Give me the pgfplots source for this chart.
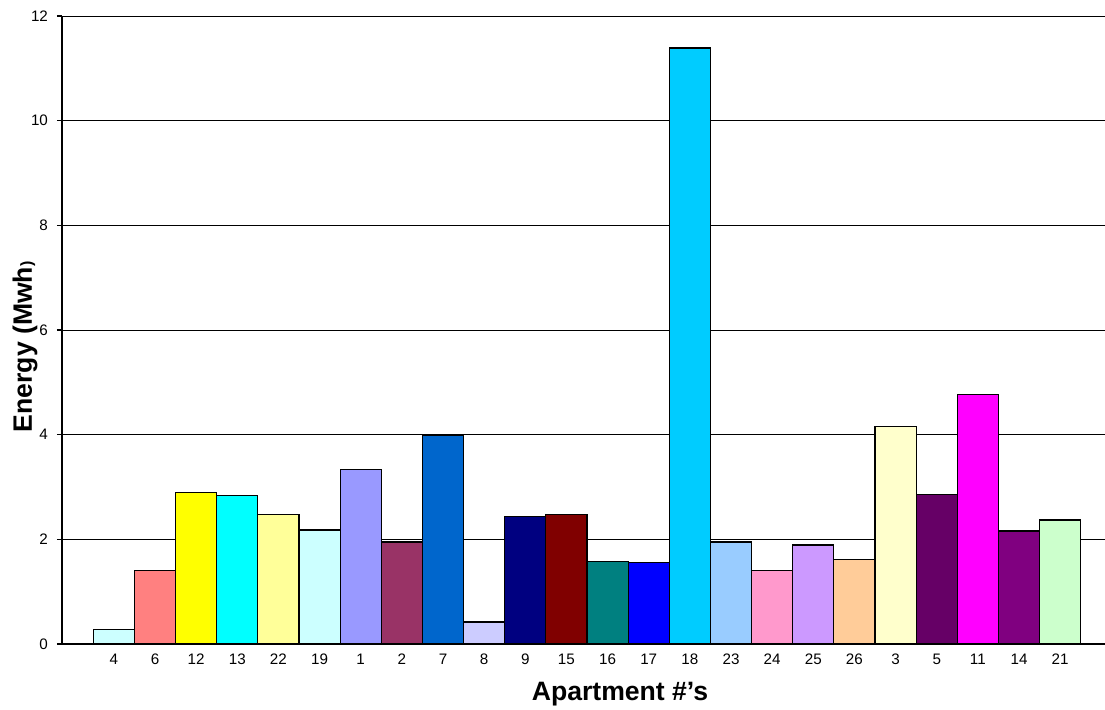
\documentclass[border=0pt]{standalone}
\usepackage{pgfplots}
\pgfplotsset{compat=1.18}
\usepackage{fontspec}
\setmainfont{Liberation Sans}

% Excel palette
\definecolor{c1}{HTML}{CCFFFF}
\definecolor{c2}{HTML}{FF8080}
\definecolor{c3}{HTML}{FFFF00}
\definecolor{c4}{HTML}{00FFFF}
\definecolor{c5}{HTML}{FFFF99}
\definecolor{c6}{HTML}{CCFFFF}
\definecolor{c7}{HTML}{9999FF}
\definecolor{c8}{HTML}{993366}
\definecolor{c9}{HTML}{0066CC}
\definecolor{c10}{HTML}{CCCCFF}
\definecolor{c11}{HTML}{000080}
\definecolor{c12}{HTML}{800000}
\definecolor{c13}{HTML}{008080}
\definecolor{c14}{HTML}{0000FF}
\definecolor{c15}{HTML}{00CCFF}
\definecolor{c16}{HTML}{99CCFF}
\definecolor{c17}{HTML}{FF99CC}
\definecolor{c18}{HTML}{CC99FF}
\definecolor{c19}{HTML}{FFCC99}
\definecolor{c20}{HTML}{FFFFCC}
\definecolor{c21}{HTML}{660066}
\definecolor{c22}{HTML}{FF00FF}
\definecolor{c23}{HTML}{800080}
\definecolor{c24}{HTML}{CCFFCC}

\newcommand\tl{\fontsize{7.6}{9}\selectfont}

\begin{document}
\begin{tikzpicture}
\begin{axis}[
    at={(0,0)}, anchor=south west,
    scale only axis,
    width=521.5pt, height=314pt,
    xmin=-1.26, xmax=24.09,
    ymin=0, ymax=12,
    ytick={0,2,...,12},
    yticklabel={\tl\pgfmathprintnumber{\tick}},
    xtick={0,...,23},
    xticklabels={\tl 4,\tl 6,\tl 12,\tl 13,\tl 22,\tl 19,\tl 1,\tl 2,\tl 7,\tl 8,\tl 9,\tl 15,
      \tl 16,\tl 17,\tl 18,\tl 23,\tl 24,\tl 25,\tl 26,\tl 3,\tl 5,\tl 11,\tl 14,\tl 21},
    axis lines=left,
    axis line style={-, line width=0.9pt},
    ymajorgrids,
    grid style={black, line width=0.4pt},
    tick align=outside,
    major tick length=2.5pt,
    tick style={black, line width=0.6pt},
    x tick style={draw=none},
    yticklabel style={xshift=-1pt},
    xticklabel style={yshift=1pt},
    /pgf/number format/assume math mode=true,
    xlabel={\bfseries Apartment \#\symbol{39}s},
    ylabel={\bfseries Energy (Mwh{\fontsize{8}{9}\selectfont)}},
    label style={font=\fontsize{13.3}{15}\selectfont},
    xlabel style={at={(rel axis cs:0.535,0)}, anchor=center, yshift=-25pt},
    ylabel style={at={(rel axis cs:0,0.473)}, anchor=center, yshift=18.5pt},
    every axis plot/.append style={ybar, bar width=1, bar shift=0pt, draw=black, line width=0.6pt},
  ]
  \addplot[fill=c1]  coordinates {(0,0.27)};
  \addplot[fill=c2]  coordinates {(1,1.40)};
  \addplot[fill=c3]  coordinates {(2,2.89)};
  \addplot[fill=c4]  coordinates {(3,2.83)};
  \addplot[fill=c5]  coordinates {(4,2.47)};
  \addplot[fill=c6]  coordinates {(5,2.18)};
  \addplot[fill=c7]  coordinates {(6,3.33)};
  \addplot[fill=c8]  coordinates {(7,1.95)};
  \addplot[fill=c9]  coordinates {(8,3.98)};
  \addplot[fill=c10] coordinates {(9,0.42)};
  \addplot[fill=c11] coordinates {(10,2.43)};
  \addplot[fill=c12] coordinates {(11,2.47)};
  \addplot[fill=c13] coordinates {(12,1.57)};
  \addplot[fill=c14] coordinates {(13,1.55)};
  \addplot[fill=c15] coordinates {(14,11.39)};
  \addplot[fill=c16] coordinates {(15,1.95)};
  \addplot[fill=c17] coordinates {(16,1.41)};
  \addplot[fill=c18] coordinates {(17,1.89)};
  \addplot[fill=c19] coordinates {(18,1.61)};
  \addplot[fill=c20] coordinates {(19,4.15)};
  \addplot[fill=c21] coordinates {(20,2.85)};
  \addplot[fill=c22] coordinates {(21,4.76)};
  \addplot[fill=c23] coordinates {(22,2.16)};
  \addplot[fill=c24] coordinates {(23,2.37)};
\end{axis}
\pgfresetboundingbox
\path[use as bounding box] (-31pt,-32.5pt) rectangle (521.5pt,322pt);
\end{tikzpicture}
\end{document}
